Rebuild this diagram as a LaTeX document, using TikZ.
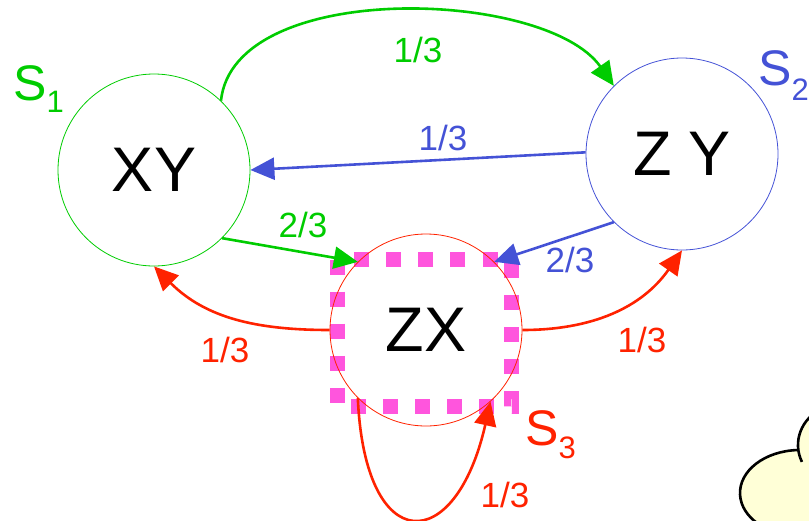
\documentclass[tikz,border=0pt]{standalone}
\usepackage{fontspec}
\setmainfont{Liberation Sans}
\usetikzlibrary{arrows.meta}
\definecolor{cgreen}{RGB}{0,204,0}
\definecolor{cblue}{RGB}{68,82,214}
\definecolor{cred}{RGB}{255,34,0}
\definecolor{cpink}{RGB}{255,85,221}
\definecolor{cloudfill}{RGB}{255,255,215}
\begin{document}
\begin{tikzpicture}[x=1pt,y=1pt,
  state/.style={circle, minimum size=192pt, inner sep=0pt, line width=0.8pt, font=\fontsize{63}{63}\selectfont},
  conn/.style={line width=2.6pt, -{Triangle[length=24pt,width=22pt]}},
  lbl/.style={inner sep=0pt, font=\fontsize{35}{35}\selectfont},
  slbl/.style={anchor=base west, inner sep=0pt, font=\fontsize{50}{50}\selectfont},
]
\useasboundingbox (0,0) rectangle (809,-520);

% cloud (partly outside the picture)
\begin{scope}
\clip (0,0) rectangle (809,-520);
\fill[cloudfill] (800,-493) ellipse [x radius=60, y radius=43];
\fill[cloudfill] (840,-445) ellipse [x radius=42, y radius=40];
\draw[line width=2.6pt] (800,-493) ++(92:60 and 43) arc[start angle=92, end angle=270, x radius=60, y radius=43];
\draw[line width=2.6pt] (840,-445) ++(205:42 and 40) arc[start angle=205, end angle=60, x radius=42, y radius=40];
\end{scope}

% dotted square
\draw[cpink, line width=15pt, dash pattern=on 15pt off 17.1pt] (337,-259.5) rectangle (511.5,-406);

% states
\node[state, draw=cgreen] (xy) at (154,-170) {XY};
\node[state, draw=cblue] (zy) at (682,-154) {Z Y};
\node[state, draw=cred] (zx) at (426,-330) {ZX};

% connectors
\draw[conn, cgreen] (xy.46) .. controls +(13,122) and +(-68,97) .. (zy.135);
\draw[conn, cblue] (zy.179) -- (xy.0);
\draw[conn, cgreen] (xy.-45) -- (zx.135);
\draw[conn, cblue] (zy.-135) -- (zx.45);
\draw[conn, cred] (zx.180) to[out=180,in=-45] (xy.-90);
\draw[conn, cred] (zx.0) to[out=0,in=-125] (zy.-90);
\draw[conn, cred] (zx.-135) .. controls +(7,-160) and +(-35,-155) .. (zx.-48);

% labels
\node[lbl, text=cgreen] (l1) at (418,-50) {1/3};
\node[lbl, text=cblue] (l2) at (443,-138) {1/3};
\node[lbl, text=cgreen] (l3) at (303,-225) {2/3};
\node[lbl, text=cblue] (l4) at (570,-260) {2/3};
\node[lbl, text=cred] (l5) at (225,-350) {1/3};
\node[lbl, text=cred] (l6) at (642,-340) {1/3};
\node[lbl, text=cred] (l7) at (505,-495) {1/3};

% state names
\node[slbl, text=cgreen] (s1) at (13,-100) {S\raisebox{-12pt}{\fontsize{31}{31}\selectfont 1}};
\node[slbl, text=cblue] (s2) at (758,-85) {S\raisebox{-15pt}{\fontsize{31}{31}\selectfont 2}};
\node[slbl, text=cred] (s3) at (525,-445) {S\raisebox{-13pt}{\fontsize{31}{31}\selectfont 3}};
\end{tikzpicture}
\end{document}
